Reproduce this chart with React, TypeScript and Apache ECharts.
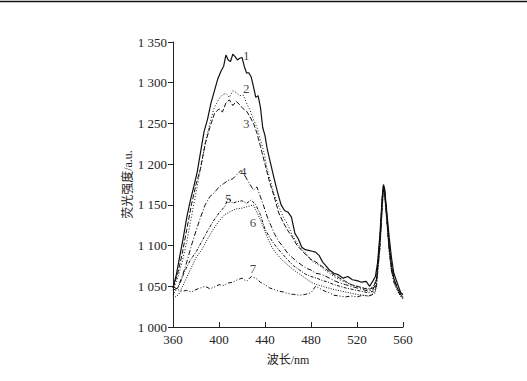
import React, { useEffect, useRef } from "react";
import * as echarts from "echarts";

const xTicks = { min: 360, max: 560, interval: 40 };
const yTicks = { min: 1000, max: 1350, interval: 50 };

const wl1 = [360,363,366,369,372,375,378,381,384,387,390,393,396,399,402,404,406,408,410,412,414,416,418,420,422,424,426,428,430,432,434,436,438,440,442,445,448,451,454,457,460,463,466,469,472,475,478,481,484,487,490,493,496,500,504,508,512,516,520,524,528,531,534,536,538,540,542,543,544,546,548,550,552,554,556,558,560];
const int1 = [1048,1065,1088,1110,1135,1155,1172,1190,1215,1240,1255,1275,1290,1305,1315,1320,1334,1328,1326,1335,1332,1328,1330,1331,1320,1312,1312,1307,1295,1282,1284,1270,1245,1235,1218,1200,1182,1165,1150,1143,1141,1135,1115,1108,1098,1095,1094,1093,1092,1088,1080,1075,1070,1066,1064,1060,1062,1058,1057,1055,1056,1050,1057,1062,1080,1115,1160,1175,1170,1140,1110,1085,1066,1058,1050,1042,1040];

const wl2 = [360,364,368,372,376,380,384,388,392,396,400,403,406,409,412,415,418,421,424,427,430,433,436,439,442,445,448,452,456,460,464,468,472,476,480,484,488,492,496,500,505,510,515,520,525,530,534,537,540,542,543,544,546,548,550,552,555,558,560];
const int2 = [1045,1060,1080,1105,1135,1165,1195,1225,1250,1270,1280,1285,1287,1282,1290,1288,1284,1285,1275,1266,1255,1245,1230,1215,1193,1178,1163,1148,1135,1125,1112,1103,1095,1090,1082,1078,1075,1070,1066,1062,1058,1055,1052,1050,1048,1047,1049,1060,1110,1160,1173,1168,1135,1100,1075,1060,1048,1038,1035];

const wl3 = [360,364,368,372,376,380,384,388,392,396,400,403,406,409,412,415,418,421,424,427,430,433,436,440,444,448,452,456,460,464,468,472,476,480,484,488,492,496,500,505,510,515,520,525,530,534,537,540,542,543,544,546,548,550,552,555,558,560];
const int3 = [1048,1065,1090,1120,1150,1175,1195,1225,1245,1262,1268,1264,1275,1279,1272,1277,1273,1268,1265,1258,1250,1238,1222,1200,1178,1160,1140,1128,1118,1110,1100,1094,1088,1083,1080,1076,1072,1068,1064,1060,1056,1052,1050,1048,1046,1048,1058,1110,1160,1174,1168,1135,1100,1075,1060,1048,1040,1037];

const wl4 = [360,364,368,372,376,380,384,388,392,396,400,404,408,412,416,419,421,424,427,430,433,436,439,442,445,448,452,456,460,464,468,472,476,480,484,488,492,496,500,505,510,515,520,525,530,534,537,540,542,543,544,546,548,550,552,555,558,560];
const int4 = [1045,1048,1062,1080,1100,1118,1135,1150,1160,1165,1172,1176,1180,1182,1188,1192,1190,1182,1175,1168,1172,1160,1148,1135,1125,1115,1105,1098,1090,1085,1080,1076,1072,1070,1066,1065,1063,1060,1057,1054,1052,1050,1048,1046,1044,1046,1056,1105,1155,1172,1168,1135,1100,1075,1060,1048,1040,1036];

const wl5 = [360,365,370,375,380,385,390,395,400,405,408,412,416,420,424,428,432,436,440,445,450,455,460,465,470,475,480,485,490,495,500,510,520,530,536,540,542,543,544,546,548,550,553,556,560];
const int5 = [1040,1050,1068,1082,1092,1105,1118,1130,1140,1148,1158,1152,1154,1155,1152,1156,1150,1138,1120,1108,1098,1090,1082,1075,1070,1065,1062,1060,1057,1055,1052,1048,1045,1042,1045,1100,1150,1170,1165,1130,1095,1070,1055,1045,1040];

const wl6 = [360,365,370,375,380,385,390,395,400,405,410,415,420,425,430,434,438,442,446,450,455,460,465,470,475,480,485,490,500,510,520,530,536,540,542,543,544,546,548,550,553,556,560];
const int6 = [1035,1040,1055,1070,1085,1095,1108,1120,1130,1138,1142,1145,1146,1148,1150,1138,1125,1110,1098,1090,1082,1076,1070,1065,1060,1055,1052,1050,1046,1043,1040,1038,1042,1095,1148,1168,1162,1128,1092,1068,1052,1042,1034];

const wl7 = [360,364,368,372,376,380,384,388,392,396,400,404,408,412,416,420,424,428,432,436,440,444,448,452,456,460,465,470,475,480,484,488,492,496,500,505,510,515,520,525,530,534,537,540,542,543,544,546,548,550,552,555,558,560];
const int7 = [1050,1046,1044,1045,1043,1046,1048,1050,1047,1049,1052,1051,1054,1055,1058,1060,1056,1062,1060,1055,1052,1048,1046,1044,1043,1041,1040,1039,1040,1042,1050,1047,1044,1042,1039,1038,1037,1038,1037,1039,1038,1040,1050,1100,1150,1170,1165,1130,1095,1070,1055,1045,1038,1035];

const curveNames = ["1", "2", "3", "4", "5", "6", "7"];
const labelX = [423.8, 423.8, 423.8, 421, 408, 429.6, 429.6];
const labelY = [1334, 1293, 1250, 1191, 1158, 1129, 1072];

const wls = [wl1, wl2, wl3, wl4, wl5, wl6, wl7];
const ints = [int1, int2, int3, int4, int5, int6, int7];
const dashes: (string | number[])[] = ["solid", [1, 2], [5, 2], [5, 2, 1, 2], [3, 1.5, 1, 1.5], [1, 1.5], [4, 2, 1, 2, 1, 2]];

const FONT = "'Liberation Serif', 'Noto Sans CJK SC', serif";

function fmt(v: number) {
  return String(v).replace(/\B(?=(\d{3})+(?!\d))/g, " ");
}

export default function App() {
  const ref = useRef<HTMLDivElement>(null);
  useEffect(() => {
    document.body.style.margin = "0";
    const chart = echarts.init(ref.current!, undefined, { renderer: "svg" });
    const series: any[] = wls.map((w, i) => ({
      type: "line",
      name: curveNames[i],
      data: w.map((x, j) => [x, ints[i][j]]),
      showSymbol: false,
      symbol: "none",
      lineStyle: { color: "#111", width: i === 0 ? 1.2 : 1, type: dashes[i] },
      z: 2,
    }));
    series.push({
      type: "scatter",
      data: labelX.map((x, i) => [x, labelY[i], curveNames[i]]),
      symbolSize: 0,
      itemStyle: { color: "#111" },
      label: {
        show: true,
        position: "top",
        distance: 0,
        offset: [0, 7],
        formatter: (p: any) => p.data[2],
        color: "#111",
        textBorderWidth: 0,
        fontFamily: FONT,
        fontSize: 13,
      },
      z: 3,
    });
    chart.setOption({
      animation: false,
      backgroundColor: "#fff",
      grid: { left: 173, right: 124, top: 42, bottom: 54, containLabel: false },
      xAxis: {
        type: "value",
        min: xTicks.min,
        max: xTicks.max,
        interval: xTicks.interval,
        name: "波长/nm",
        nameLocation: "middle",
        nameGap: 27,
        nameTextStyle: { color: "#222", fontFamily: FONT, fontSize: 12 },
        axisLine: { lineStyle: { color: "#222", width: 1 } },
        axisTick: { inside: true, length: 5, lineStyle: { color: "#222" } },
        axisLabel: { color: "#222", fontFamily: FONT, fontSize: 13, margin: 6 },
        splitLine: { show: false },
      },
      yAxis: {
        type: "value",
        min: yTicks.min,
        max: yTicks.max,
        interval: yTicks.interval,
        name: "荧光强度/a.u.",
        nameLocation: "middle",
        nameGap: 38,
        nameTextStyle: { color: "#222", fontFamily: FONT, fontSize: 12 },
        axisLine: { lineStyle: { color: "#222", width: 1 } },
        axisTick: { inside: false, length: 5, lineStyle: { color: "#222" } },
        axisLabel: { color: "#222", fontFamily: FONT, fontSize: 13, margin: 6, formatter: fmt },
        splitLine: { show: false },
      },
      graphic: [
        {
          type: "line",
          shape: { x1: 0, y1: 1.5, x2: 527, y2: 1.5 },
          style: { stroke: "#111", lineWidth: 1.5 },
        },
      ],
      series,
    });
    return () => chart.dispose();
  }, []);
  return <div ref={ref} style={{ width: 527, height: 381 }} />;
}
